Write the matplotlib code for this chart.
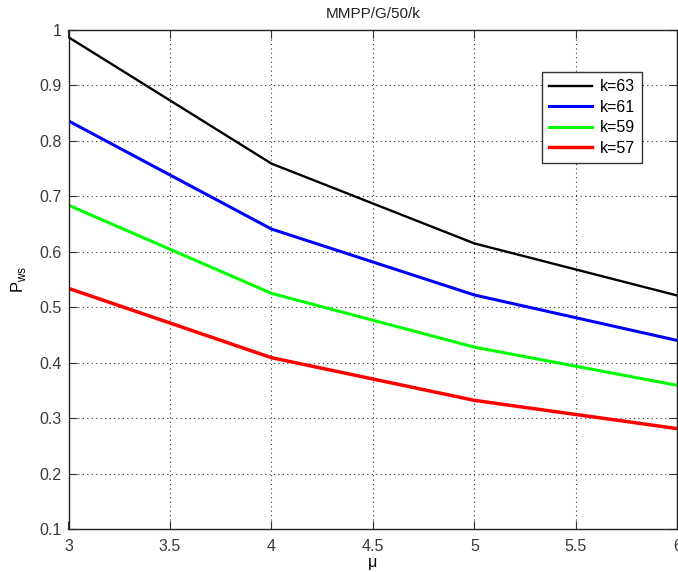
import matplotlib
matplotlib.use("Agg")
import matplotlib.pyplot as plt

# service rate mu and waiting probability for each buffer size k
mu = [3, 4, 5, 6]
k_labels = ["k=63", "k=61", "k=59", "k=57"]
p_k63 = [0.987, 0.759, 0.615, 0.521]
p_k61 = [0.836, 0.641, 0.522, 0.440]
p_k59 = [0.684, 0.525, 0.428, 0.359]
p_k57 = [0.534, 0.409, 0.332, 0.281]

series = [p_k63, p_k61, p_k59, p_k57]
colors = ["#000000", "#0000ff", "#00ff00", "#ff0000"]
widths = [1.7, 2.2, 2.2, 2.5]

plt.rcParams["font.family"] = ["Liberation Sans", "DejaVu Sans"]

W, H = 678, 572
fig = plt.figure(figsize=(W / 100, H / 100), dpi=100)
left, right, top, bottom = 68.5, 677.5, 30, 529
ax = fig.add_axes([left / W, (H - bottom) / H, (right - left) / W, (bottom - top) / H])

for vals, lab, c, lw in zip(series, k_labels, colors, widths):
    ax.plot(mu, vals, color=c, lw=lw, label=lab, solid_joinstyle="round")

ax.set_xlim(3, 6)
ax.set_ylim(0.1, 1.0)
ax.set_xticks([3, 3.5, 4, 4.5, 5, 5.5, 6])
ax.set_xticklabels(["3", "3.5", "4", "4.5", "5", "5.5", "6"])
ax.set_yticks([0.1, 0.2, 0.3, 0.4, 0.5, 0.6, 0.7, 0.8, 0.9, 1.0])
ax.set_yticklabels(["0.1", "0.2", "0.3", "0.4", "0.5", "0.6", "0.7", "0.8", "0.9", "1"])

ax.grid(True, linestyle=(0, (1, 3)), color="#333333", lw=0.8)
ax.tick_params(direction="in", length=6, width=0.8, top=True, right=True,
               labelsize=11.5, labelcolor="#3a3a3a", color="#333333")
ax.tick_params(axis="x", pad=7)
ax.tick_params(axis="y", pad=5)
for s in ax.spines.values():
    s.set_linewidth(1.0)
    s.set_color("#222222")

ax.set_title("MMPP/G/50/k", fontsize=11, color="#222222", pad=9)
ax.set_xlabel("\u03bc", fontsize=11.5, labelpad=1)
ax.set_ylabel(r"P$_{\mathregular{ws}}$", fontsize=12, labelpad=8)

leg = ax.legend(loc="upper right", bbox_to_anchor=(0.942, 0.916), fancybox=False,
                framealpha=1, edgecolor="#333333", fontsize=11.5, handlelength=2.7,
                borderaxespad=0, labelspacing=0.35, handletextpad=0.5,
                borderpad=0.45)
leg.get_frame().set_linewidth(1.0)

fig.savefig("out.png", dpi=100)
